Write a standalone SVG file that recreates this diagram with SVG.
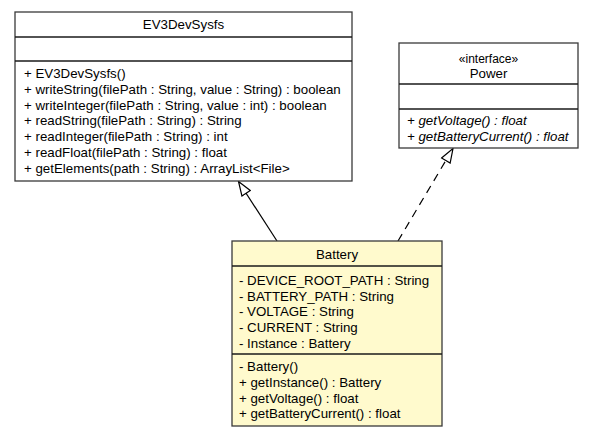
<svg xmlns="http://www.w3.org/2000/svg" width="593" height="437" viewBox="0 0 593 437">
<style>
.box{fill:#ffffff;stroke:#3a3a3a;stroke-width:1.3}
.hl{fill:#fffacd}
.div{stroke:#1a1a1a;stroke-width:1.6}
text{font-family:"Liberation Sans",Arial,Helvetica,sans-serif;font-size:13.3px;fill:#000}
.c{text-anchor:middle}
.i{font-style:italic}
.line{fill:none;stroke:#000;stroke-width:1.2}
.dash{stroke-dasharray:8,6}
</style>
<defs>
<marker id="tri" viewBox="0 0 16 12" refX="15" refY="6" markerWidth="16" markerHeight="12" markerUnits="userSpaceOnUse" orient="auto">
<path d="M1,1 L15,6 L1,11 Z" fill="#fff" stroke="#000" stroke-width="1.2"/>
</marker>
</defs>
<g id="connectors">
<line class="line" x1="277" y1="241" x2="238.5" y2="181.5" marker-end="url(#tri)"/>
<line class="line dash" x1="398" y1="241" x2="453" y2="148.5" marker-end="url(#tri)"/>
</g>
<g id="EV3DevSysfs">
<rect class="box" x="15" y="12" width="337" height="169"/>
<line class="div" x1="15" y1="37" x2="352" y2="37"/>
<line class="div" x1="15" y1="61" x2="352" y2="61"/>
<text class="c" x="183.5" y="29">EV3DevSysfs</text>
<text x="24" y="78">+ EV3DevSysfs()</text>
<text x="24" y="94">+ writeString(filePath : String, value : String) : boolean</text>
<text x="24" y="109.5">+ writeInteger(filePath : String, value : int) : boolean</text>
<text x="24" y="125">+ readString(filePath : String) : String</text>
<text x="24" y="141">+ readInteger(filePath : String) : int</text>
<text x="24" y="157">+ readFloat(filePath : String) : float</text>
<text x="24" y="173">+ getElements(path : String) : ArrayList&lt;File&gt;</text>
</g>
<g id="Power">
<rect class="box" x="399" y="43" width="179" height="105"/>
<line class="div" x1="399" y1="84" x2="578" y2="84"/>
<line class="div" x1="399" y1="109" x2="578" y2="109"/>
<text class="c" x="488.5" y="63" style="font-size:12px">«interface»</text>
<text class="c" x="488.5" y="78">Power</text>
<text class="i" x="407" y="125">+ getVoltage() : float</text>
<text class="i" x="407" y="141">+ getBatteryCurrent() : float</text>
</g>
<g id="Battery">
<rect class="box hl" x="232" y="241" width="210" height="185"/>
<line class="div" x1="232" y1="266" x2="442" y2="266"/>
<line class="div" x1="232" y1="354" x2="442" y2="354"/>
<text class="c" x="337" y="259">Battery</text>
<text x="239" y="285">- DEVICE_ROOT_PATH : String</text>
<text x="239" y="300.5">- BATTERY_PATH : String</text>
<text x="239" y="316">- VOLTAGE : String</text>
<text x="239" y="332">- CURRENT : String</text>
<text x="239" y="347.5">- Instance : Battery</text>
<text x="239" y="371">- Battery()</text>
<text x="239" y="387">+ getInstance() : Battery</text>
<text x="239" y="403">+ getVoltage() : float</text>
<text x="239" y="418">+ getBatteryCurrent() : float</text>
</g>
</svg>
